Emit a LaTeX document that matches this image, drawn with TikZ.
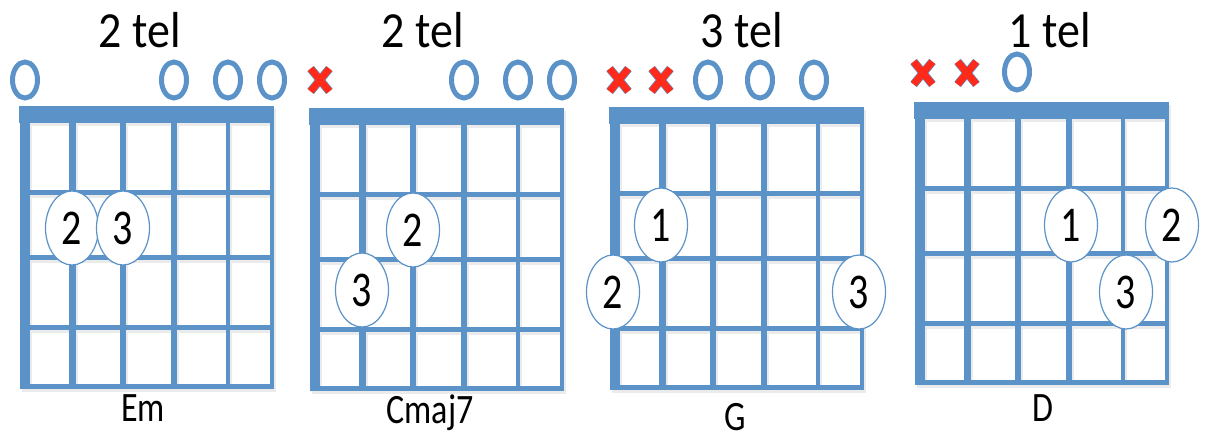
\documentclass[tikz,border=0pt]{standalone}
\usepackage{fontspec}
\setmainfont{Carlito}
\usetikzlibrary{shapes.geometric,shapes.misc}
\definecolor{fretblue}{HTML}{5B93C9}
\definecolor{mutered}{HTML}{FF2A1A}

\begin{document}
\begin{tikzpicture}[x=1pt,y=-1pt,
    openmark/.style={ellipse,draw=fretblue,line width=5pt,fill=white,inner sep=0,minimum width=25pt,minimum height=36pt},
    mutemark/.style={cross out,draw=fretblue,double=mutered,double distance=7pt,line width=.7pt,inner sep=0,minimum width=18pt,minimum height=22pt},
    finger/.style={ellipse,draw=fretblue,line width=1.2pt,fill=white,inner sep=0,minimum width=53pt,minimum height=74pt,font=\fontsize{40}{40}\selectfont},
    tel/.style={inner sep=0,font=\fontsize{46}{46}\selectfont},
    chordname/.style={inner sep=0,font=\fontsize{34}{34}\selectfont}]
    \newcommand{\fretgrid}[1]{%
        \fill[#1](-6,0)rectangle(249,17);
        \foreach \f in {86,151,221,280}
            \draw[#1,line width=5pt](-5,\f)--(249,\f);
        \foreach \s/\w in {0/10,47/7,98/6,149/5.5,203/4.5,247/3.5}
            \draw[#1,line width=\w pt](\s,17)--(\s,282);
    }
    \newcommand{\shadedgrid}{%
        \begin{scope}[shift={(2,3)}]\fretgrid{black!8}\end{scope}
        \fretgrid{fretblue}
    }
    \useasboundingbox(0,0)rectangle(1207,439);
    % Em
    \begin{scope}[shift={(25,106)}]
        \shadedgrid
        \node[tel](emtel)at(115,-76){\scalebox{1}[1.1]{2 tel}};
        \node[openmark](emo1)at(0,-26){};
        \node[openmark](emo4)at(149,-26){};
        \node[openmark](emo5)at(203,-26){};
        \node[openmark](emo6)at(247,-26){};
        \node[finger](emf2)at(47,122){\scalebox{1}[1.25]{2}};
        \node[finger](emf3)at(98,122){\scalebox{1}[1.25]{3}};
        \node[chordname](emname)at(118,302){\scalebox{1}[1.23]{Em}};
    \end{scope}
    % Cmaj7
    \begin{scope}[shift={(315,108)}]
        \shadedgrid
        \node[tel](ctel)at(108,-78){\scalebox{1}[1.1]{2 tel}};
        \node[mutemark](cx1)at(5,-28){};
        \node[openmark](co4)at(149,-28){};
        \node[openmark](co5)at(203,-28){};
        \node[openmark](co6)at(247,-28){};
        \node[finger](cf2)at(98,122){\scalebox{1}[1.25]{2}};
        \node[finger](cf3)at(47,182){\scalebox{1}[1.25]{3}};
        \node[chordname](cname)at(115,305){\scalebox{1}[1.23]{Cmaj7}};
    \end{scope}
    % G
    \begin{scope}[shift={(615,107)}]
        \shadedgrid
        \node[tel](gtel)at(127,-77){\scalebox{1}[1.1]{3 tel}};
        \node[mutemark](gx1)at(4,-27){};
        \node[mutemark](gx2)at(46,-27){};
        \node[openmark](go3)at(93,-27){};
        \node[openmark](go4)at(145,-27){};
        \node[openmark](go5)at(199,-27){};
        \node[finger](gf1)at(46,118){\scalebox{1}[1.25]{1}};
        \node[finger](gf2)at(-2,185){\scalebox{1}[1.25]{2}};
        \node[finger](gf3)at(244,185){\scalebox{1}[1.25]{3}};
        \node[chordname](gname)at(120,310){\scalebox{1}[1.23]{G}};
    \end{scope}
    % D
    \begin{scope}[shift={(920,102)}]
        \shadedgrid
        \node[tel](dtel)at(130,-72){\scalebox{1}[1.1]{1 tel}};
        \node[mutemark](dx1)at(3,-29){};
        \node[mutemark](dx2)at(47,-29){};
        \node[openmark](do3)at(97,-30){};
        \node[finger](df1)at(151,123){\scalebox{1}[1.25]{1}};
        \node[finger](df2)at(252,123){\scalebox{1}[1.25]{2}};
        \node[finger](df3)at(206,190){\scalebox{1}[1.25]{3}};
        \node[chordname](dname)at(123,306){\scalebox{1}[1.23]{D}};
    \end{scope}
\end{tikzpicture}
\end{document}
